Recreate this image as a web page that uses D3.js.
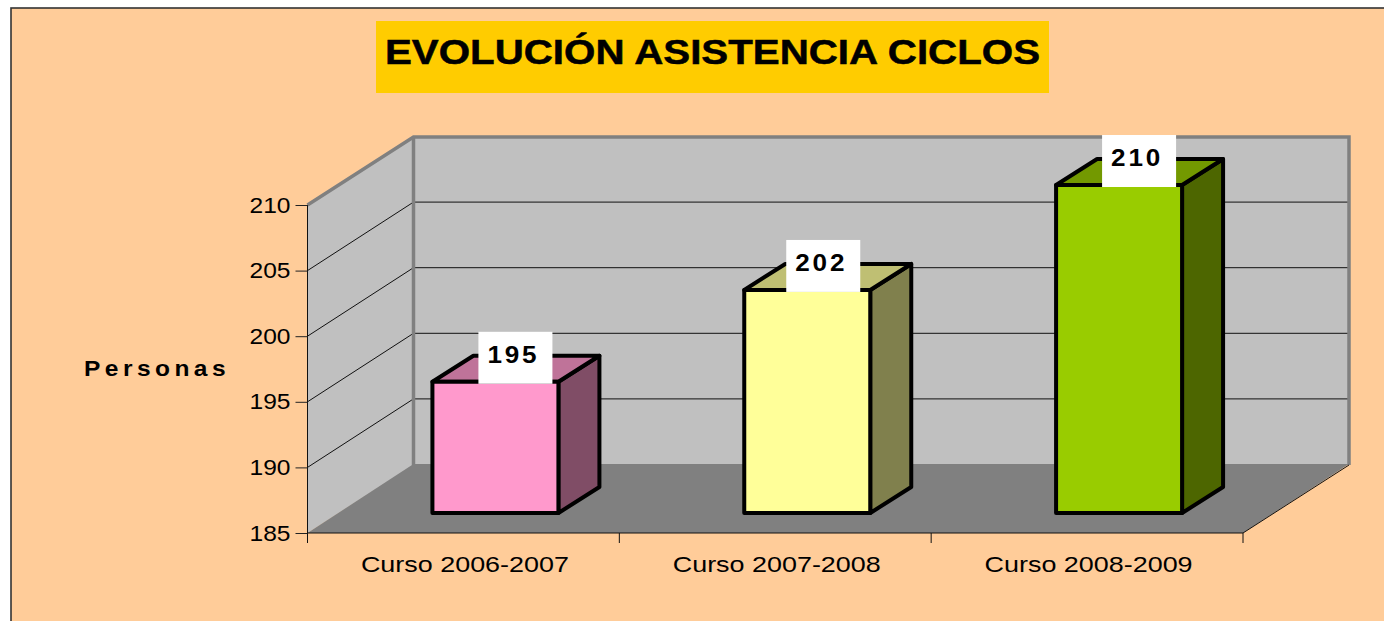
<!DOCTYPE html>
<html><head><meta charset="utf-8">
<script src="https://cdn.jsdelivr.net/npm/d3@7"></script>
<style>html,body{margin:0;padding:0;background:#fff;overflow:hidden}svg{display:block}text{font-family:"Liberation Sans",Arial,sans-serif;fill:#000}</style>
</head><body><svg id="c" width="1384" height="621"></svg>
<script>
const categories=["Curso 2006-2007","Curso 2007-2008","Curso 2008-2009"];
const values=[195,202,210];
const valueLabels=["195","202","210"];
const yTicks=[185,190,195,200,205,210];
const frontColors=["#FF99CC","#FFFF99","#99CC00"];
const topColors=["#BF7399","#BFBF73","#739900"];
const sideColors=["#804D66","#80804D","#4D6600"];
const title="EVOLUCIÓN ASISTENCIA CICLOS";
const yTitle="Personas";

const svg=d3.select("#c");
const L=307.5,R=1243,B=533,T=205,DX=106,DY=-68;
const y=d3.scaleLinear().domain([185,210]).range([B,T]);
const x=d3.scaleBand().domain(categories).range([L,R]).paddingInner(0);
const line=d3.line();
const poly=p=>line(p)+"Z";

svg.append("rect").attr("x",11).attr("y",8).attr("width",1400).attr("height",640)
  .attr("fill","#FFCC99").attr("stroke","#333").attr("stroke-width",1.6);
svg.append("rect").attr("x",376).attr("y",21).attr("width",673).attr("height",72).attr("fill","#FFCC00");
svg.append("text").attr("x",385).attr("y",64).attr("font-size",35).attr("font-weight","bold")
  .attr("stroke","#000").attr("stroke-width",0.5)
  .attr("textLength",655).attr("lengthAdjust","spacingAndGlyphs").text(title);

// walls and floor
const topY=y(210)+DY;
svg.append("path").attr("d",poly([[L,B],[L,T],[L+DX,topY],[L+DX,B+DY]])).attr("fill","#C0C0C0");
svg.append("path").attr("d",poly([[L+DX,B+DY],[L+DX,topY],[R+DX,topY],[R+DX,B+DY]])).attr("fill","#C0C0C0");
svg.append("path").attr("d",poly([[L,B],[L+DX,B+DY-1],[R+DX,B+DY-1],[R,B]])).attr("fill","#808080");

// gridlines
const gridTicks=yTicks.slice(1);
svg.append("g").selectAll("path").data(gridTicks).join("path")
  .attr("d",d=>line([[L,y(d)],[L+DX,y(d)+DY-0.5],[R+DX,y(d)+DY-0.5]]))
  .attr("fill","none").attr("stroke","#111").attr("stroke-width",1);

// wall outline
svg.append("path").attr("d",line([[L,T],[L+DX,topY],[R+DX,topY],[R+DX,B+DY]]))
  .attr("fill","none").attr("stroke","#808080").attr("stroke-width",3.5);
svg.append("path").attr("d",line([[L+DX,topY],[L+DX,B+DY]]))
  .attr("fill","none").attr("stroke","#808080").attr("stroke-width",3.5);

// axes
const yAxis=d3.axisLeft(y).tickValues(yTicks).tickSize(12).tickPadding(5).tickFormat(d3.format("d"));
const gy=svg.append("g").attr("transform",`translate(${L},0)`).call(yAxis);
gy.select(".domain").attr("stroke","#111").attr("d",`M0,${T}V${B}`);
gy.selectAll("line").attr("stroke","#222");
gy.selectAll("text").attr("font-size",22).attr("textLength",41).attr("lengthAdjust","spacingAndGlyphs")
  .style("font-family",'"Liberation Sans"');

const xAxis=d3.axisBottom(x).tickSize(0).tickPadding(24);
const gx=svg.append("g").attr("transform",`translate(1.5,${B})`).call(xAxis);
gx.select(".domain").attr("stroke","#111").attr("d",`M${L-1.5},0H${R-1.5}`);
gx.selectAll("text").attr("font-size",22).attr("dy","0.7em").attr("textLength",208)
  .attr("lengthAdjust","spacingAndGlyphs").style("font-family",'"Liberation Sans"');
svg.append("g").selectAll("line").data(d3.range(categories.length+1)).join("line")
  .attr("x1",i=>L+i*x.step()).attr("x2",i=>L+i*x.step()).attr("y1",B).attr("y2",B+10).attr("stroke","#111");
svg.append("path").attr("d",line([[R,B],[R+DX,B+DY]])).attr("stroke","#111").attr("fill","none");

// axis title
svg.append("text").attr("x",84).attr("y",376).attr("font-size",22).attr("font-weight","bold")
  .attr("letter-spacing",4).attr("textLength",146).attr("lengthAdjust","spacingAndGlyphs").text(yTitle);

// bars
const barW=126,ox=32.5,oy=-20,bdx=41,bdy=-26;
const labelNudge=[0,-4,0];
const g=svg.append("g").attr("stroke","#000").attr("stroke-width",4).attr("stroke-linejoin","round");
categories.forEach((c,i)=>{
  const x0=x(c)+(x.step()-barW)/2+ox-0.5,x1=x0+barW,yt=y(values[i])+oy,yb=B+oy;
  g.append("path").attr("d",poly([[x1,yt],[x1+bdx,yt+bdy],[x1+bdx,yb+bdy],[x1,yb]])).attr("fill",sideColors[i]);
  g.append("path").attr("d",poly([[x0,yt],[x0+bdx,yt+bdy],[x1+bdx,yt+bdy],[x1,yt]])).attr("fill",topColors[i]);
  g.append("rect").attr("x",x0).attr("y",yt).attr("width",barW).attr("height",yb-yt).attr("fill",frontColors[i]);
  const left=x0+barW/2+20-37+labelNudge[i],top=yt-50;
  svg.append("rect").attr("x",left).attr("y",top).attr("width",74).attr("height",52).attr("fill","#fff");
  svg.append("text").attr("x",left+9).attr("y",top+31)
    .attr("font-size",23).attr("font-weight","bold").attr("letter-spacing",2.5)
    .attr("textLength",52).attr("lengthAdjust","spacingAndGlyphs").text(valueLabels[i]);
});
</script></body></html>
